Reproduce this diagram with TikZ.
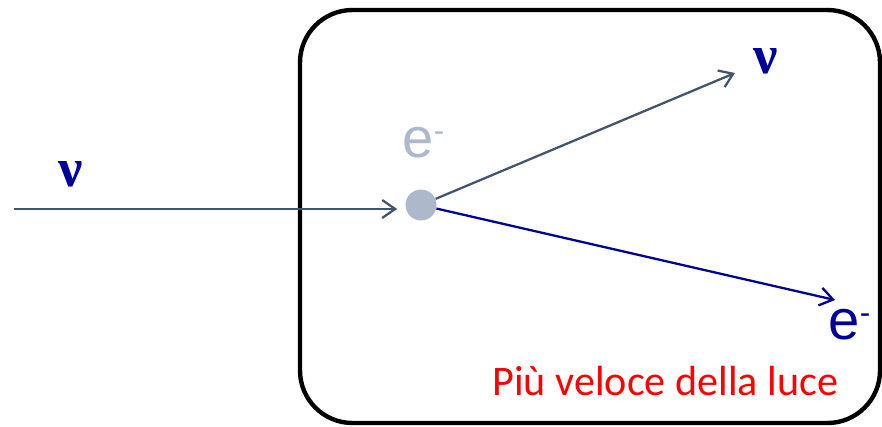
\documentclass[tikz,border=0pt]{standalone}
\usepackage{fontspec}
\setmainfont{Liberation Sans}
\newfontfamily\greekfont{Liberation Serif}
\newfontfamily\notefont{Carlito}
\usetikzlibrary{arrows.meta,positioning,calc}

\definecolor{slate}{RGB}{68,84,106}
\definecolor{navy}{RGB}{0,0,150}
\definecolor{pale}{RGB}{173,185,202}

\begin{document}
\begin{tikzpicture}[x=0.02cm,y=-0.02cm,
    particle/.style={circle,fill=pale,minimum size=0.62cm,inner sep=0pt},
    track/.style={line width=1.3pt,-{Straight Barb[length=0.26cm,width=0.36cm,line width=1.3pt]}},
    greeklbl/.style={text=navy,font=\greekfont\bfseries\fontsize{31}{31}\selectfont,inner sep=0pt},
    elbl/.style={font=\fontsize{32}{32}\selectfont,inner sep=0pt},
    >=Latex]
    \useasboundingbox (0,0) rectangle (882,426);
    \draw[line width=2.5pt,rounded corners=1.05cm] (300,10) rectangle (880,423);
    \node[particle] (target) at (421,205) {};
    \coordinate (beam) at (14,209);
    \coordinate (nuend) at (735,73);
    \coordinate (eend) at (835,300);
    \node[greeklbl] (nuin) at (71,174) {ν};
    \node[greeklbl] (nuout) at (766,61) {ν};
    \node[elbl,text=pale] (eatom) at (424,143) {e\textsuperscript{\fontsize{18}{18}\selectfont -}};
    \node[elbl,text=navy] (eout) at (850,325) {e\textsuperscript{\fontsize{18}{18}\selectfont -}};
    \node[text=red,font=\notefont\fontsize{24}{24}\selectfont,anchor=base west,inner sep=0pt] (fast) at (492,395) {Più veloce della luce};
    \draw[track,slate] (beam) -- ($(target.west)+(-8,4)$);
    \draw[track,slate] (target) -- (nuend);
    \draw[track,navy] (target) -- (eend);
  \end{tikzpicture}
\end{document}
